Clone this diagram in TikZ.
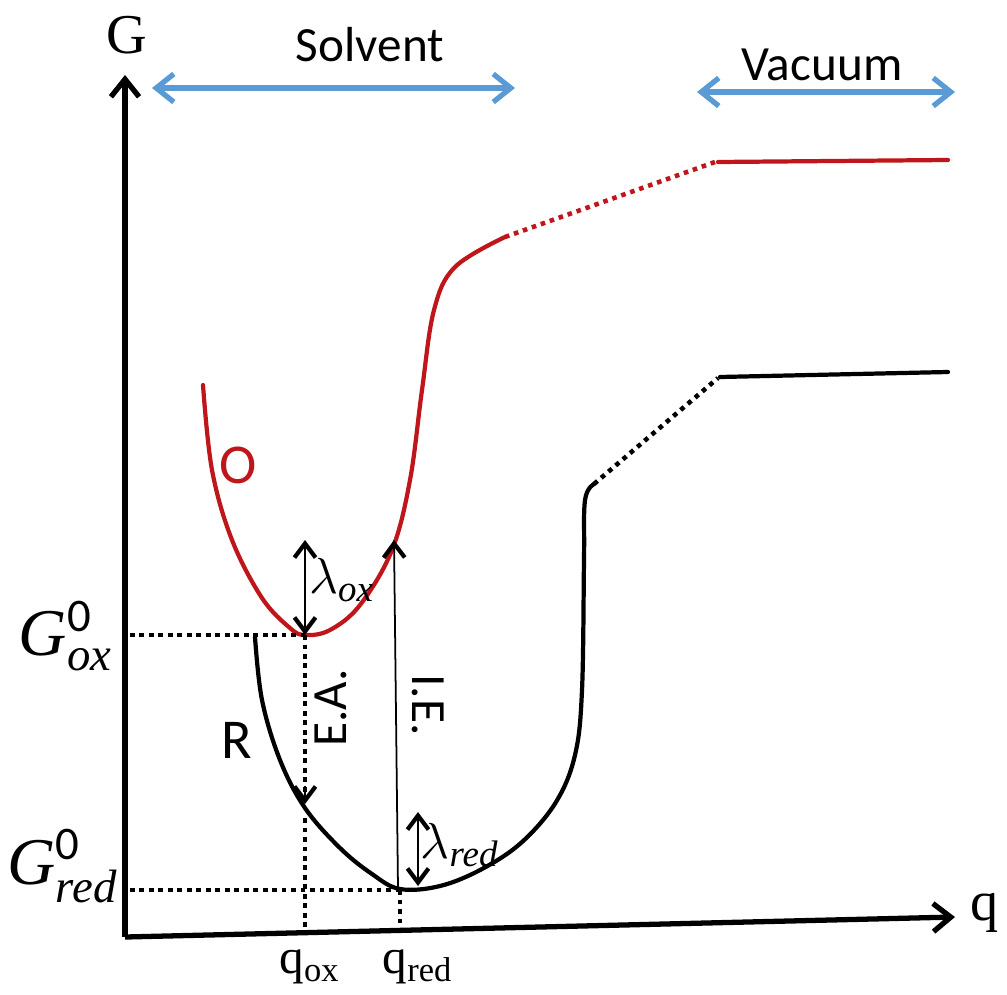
\documentclass[tikz,border=0pt]{standalone}
\usepackage{amsmath}
\usepackage{fontspec}
\setmainfont{Liberation Serif}
\newfontfamily\calfont{Carlito}
\usetikzlibrary{arrows.meta}

\definecolor{oxred}{RGB}{190,22,26}
\definecolor{phaseblue}{RGB}{91,155,213}

\begin{document}
\begin{tikzpicture}[x=0.01cm,y=-0.01cm,
    axtip/.tip={Straight Barb[length=5pt,width=8pt,line width=1.5pt]},
    lamtip/.tip={Straight Barb[length=4pt,width=6pt,line width=1.2pt]},
    axis/.style={line width=1.5pt,-axtip},
    curve/.style={line width=1.2pt,line cap=round},
    dots/.style={line width=1.3pt,dash pattern=on 1.3pt off 1.4pt},
    phase/.style={phaseblue,line width=1.8pt,axtip-axtip},
    gap/.style={line width=0.5pt},
    sans/.style={font=\calfont\fontsize{14}{16}\selectfont},
    serif/.style={font=\fontsize{16}{18}\selectfont}]
    \useasboundingbox (0,0) rectangle (1007,994);

    % axes
    \coordinate (origin) at (125,937);
    \draw[axis] (origin) -- (125,75) coordinate (gtop);
    \draw[axis] (origin) -- (955,917) coordinate (qtip);
    \node[serif] (glabel) at (127,35) {G};
    \node[serif] (qlabel) at (985,913) {q};

    % phases
    \draw[phase] (152,88) coordinate (solvl) -- (515,88) coordinate (solvr);
    \node[sans] (solvent) at (370,45) {Solvent};
    \draw[phase] (697,92) coordinate (vacl) -- (955,92) coordinate (vacr);
    \node[sans] (vacuum) at (822,65) {Vacuum};

    % key points
    \coordinate (oxmin) at (305,635);
    \coordinate (redmin) at (400,890);
    \coordinate (eaend) at (305,804);

    % O curve
    \draw[curve,oxred] plot[smooth,tension=0.6] coordinates {(203,385) (212,470) (232,540) (262,598) (290,628) (305,635) (330,630) (360,605) (392,550) (410,480) (422,390) (434,310) (455,267) (505,237)};
    \draw[dots,oxred] (505,237) -- (715,162);
    \draw[curve,oxred] (718,162) -- (948,160);
    \node[sans,oxred,font=\calfont\fontsize{16}{18}\selectfont] (olabel) at (238,465) {O};

    % R curve
    \draw[curve] plot[smooth,tension=0.6] coordinates {(255,637) (262,700) (280,760) (305,808) (340,848) (372,874) (400,889) (440,886) (482,869) (522,842) (556,802) (575,755) (582,690) (584,560) (585,500) (594,484)};
    \draw[dots] (594,484) -- (718,378);
    \draw[curve] (720,377) -- (948,372);
    \node[sans,font=\calfont\fontsize{16}{18}\selectfont] (rlabel) at (237,740) {R};

    % reference levels
    \draw[dots] (130,635) -- (oxmin);
    \draw[dots] (130,890) -- (redmin);
    \draw[dots] (oxmin) -- (305,794);
    \draw[gap,-lamtip] (305,786) -- (eaend);
    \draw[dots] (305,818) -- (305,933);
    \draw[dots] (redmin) -- (400,930);

    % gaps
    \draw[gap,lamtip-lamtip] (305,540) -- (oxmin);
    \draw[gap,-lamtip] (398,889) -- (394,540);
    \draw[gap,lamtip-lamtip] (418,812) -- (418,886);

    % labels
    \node[font=\fontsize{19}{21}\selectfont] (gox) at (66,636) {$\textit{G}^{\text{\calfont 0}}_{\textit{ox}}$};
    \node[font=\fontsize{19}{21}\selectfont] (gred) at (63,866) {$\textit{G}^{\text{\calfont 0}}_{\textit{red}}$};
    \node[font=\fontsize{14}{16}\selectfont] (qox) at (310,967) {q$_{\text{ox}}$};
    \node[font=\fontsize{14}{16}\selectfont] (qred) at (418,967) {q$_{\text{red}}$};
    \node[font=\fontsize{15}{17}\selectfont] (lamox) at (342,580) {$\lambda_{\textit{ox}}$};
    \node[font=\fontsize{15}{17}\selectfont] (lamred) at (460,845) {$\lambda_{\textit{red}}$};
    \node[sans,rotate=90] (ea) at (331,708) {E.A.};
    \node[sans,rotate=-90] (ie) at (428,705) {I.E.};
\end{tikzpicture}
\end{document}
